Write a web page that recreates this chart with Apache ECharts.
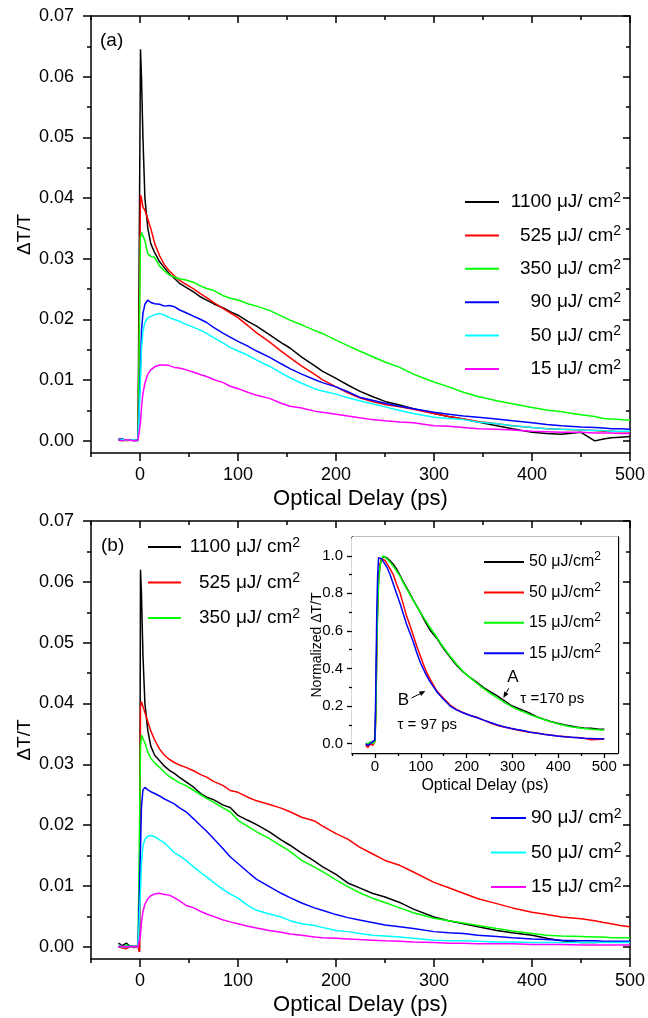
<!DOCTYPE html>
<html><head><meta charset="utf-8">
<script src="https://cdn.jsdelivr.net/npm/echarts@6/dist/echarts.min.js"></script>
<style>html,body{margin:0;padding:0;background:#fff}#c{width:648px;height:1018px}</style>
</head><body><div id="c"></div>
<script>
// ---------------- DATA ----------------
// Optical delay (ps), shared by panels (a) and (b)
const xDelay = [-22,-18,-14,-10,-6,-2,
  -0.5,0.5,1.5,3,5, 8,11,15,20,25, 30,35,40,47,55, 62,68,75,85,92,
  100,110,119,132,144, 153,165,178,186,200, 212,224,237,250,265, 279,300,315,330,345,
  364,380,400,415,430, 450,464,473,481,490, 500];

// Panel (a)
const a1100 = [0.0003,0.0002,0.0001,0.0002,0.0001,0.0002,
  0.0000,0.0645,0.0600,0.0500,0.0400, 0.0350,0.0325,0.0310,0.0295,0.0285,
  0.0275,0.0268,0.0260,0.0253,0.0245, 0.0237,0.0232,0.0226,0.0219,0.0213,
  0.0207,0.0197,0.0189,0.0175,0.0162, 0.0153,0.0138,0.0124,0.0115,0.0103,
  0.0092,0.0082,0.0073,0.0065,0.0059, 0.0053,0.0045,0.0040,0.0036,0.0031,
  0.0025,0.0020,0.0014,0.0012,0.0011, 0.0014,0.0000,0.0003,0.0005,0.0006, 0.0007];
const a525 = [0.0001,0.0002,0.0000,0.0001,0.0002,0.0001,
  0.0000,0.0405,0.0400,0.0385,0.0380, 0.0365,0.0350,0.0325,0.0305,0.0290,
  0.0280,0.0272,0.0265,0.0258,0.0250, 0.0242,0.0236,0.0228,0.0218,0.0211,
  0.0203,0.0190,0.0178,0.0163,0.0148, 0.0137,0.0123,0.0110,0.0101,0.0089,
  0.0079,0.0071,0.0065,0.0060,0.0056, 0.0052,0.0045,0.0040,0.0036,0.0032,
  0.0028,0.0025,0.0022,0.0020,0.0019, 0.0018,0.0017,0.0016,0.0016,0.0015, 0.0015];
const a350 = [0.0001,0.0000,0.0001,0.0002,0.0001,0.0000,
  -0.0003,0.0335,0.0343,0.0338,0.0330, 0.0308,0.0304,0.0302,0.0288,0.0280,
  0.0273,0.0270,0.0267,0.0265,0.0261, 0.0255,0.0251,0.0248,0.0239,0.0235,
  0.0232,0.0226,0.0222,0.0215,0.0206, 0.0199,0.0191,0.0182,0.0177,0.0166,
  0.0157,0.0148,0.0139,0.0130,0.0121, 0.0110,0.0097,0.0089,0.0080,0.0073,
  0.0066,0.0061,0.0055,0.0051,0.0048, 0.0043,0.0040,0.0037,0.0036,0.0035, 0.0034];
const a90 = [0.0002,0.0003,0.0001,0.0002,0.0000,0.0001,
  0.0000,0.0120,0.0180,0.0210,0.0225, 0.0232,0.0228,0.0226,0.0225,0.0222,
  0.0223,0.0221,0.0216,0.0211,0.0205, 0.0200,0.0195,0.0187,0.0177,0.0171,
  0.0164,0.0156,0.0148,0.0138,0.0127, 0.0119,0.0110,0.0101,0.0096,0.0089,
  0.0081,0.0072,0.0067,0.0062,0.0057, 0.0053,0.0047,0.0044,0.0041,0.0039,
  0.0036,0.0033,0.0030,0.0027,0.0025, 0.0023,0.0022,0.0021,0.0020,0.0020, 0.0019];
const a50 = [0.0001,0.0002,0.0001,0.0001,0.0002,0.0000,
  0.0000,0.0100,0.0150,0.0180,0.0195, 0.0203,0.0205,0.0208,0.0210,0.0207,
  0.0203,0.0200,0.0197,0.0192,0.0187, 0.0182,0.0177,0.0170,0.0161,0.0154,
  0.0148,0.0141,0.0133,0.0123,0.0112, 0.0104,0.0095,0.0086,0.0082,0.0077,
  0.0071,0.0066,0.0061,0.0056,0.0050, 0.0045,0.0039,0.0037,0.0035,0.0031,
  0.0028,0.0025,0.0022,0.0020,0.0019, 0.0018,0.0017,0.0017,0.0016,0.0016, 0.0016];
const a15 = [0.0001,0.0000,0.0002,0.0001,0.0000,0.0001,
  0.0000,0.0030,0.0055,0.0078,0.0095, 0.0110,0.0117,0.0122,0.0125,0.0125,
  0.0124,0.0121,0.0120,0.0117,0.0113, 0.0109,0.0106,0.0101,0.0096,0.0090,
  0.0086,0.0080,0.0075,0.0070,0.0062, 0.0057,0.0054,0.0049,0.0047,0.0044,
  0.0041,0.0038,0.0035,0.0033,0.0031, 0.0030,0.0025,0.0024,0.0022,0.0020,
  0.0019,0.0018,0.0016,0.0015,0.0014, 0.0014,0.0013,0.0013,0.0013,0.0012, 0.0012];

// Panel (b)
const b1100 = [0.0006,0.0002,0.0006,0.0001,0.0002,0.0000,
  -0.0008,0.0620,0.0580,0.0480,0.0400, 0.0355,0.0330,0.0315,0.0306,0.0297,
  0.0290,0.0285,0.0279,0.0271,0.0262, 0.0252,0.0246,0.0242,0.0233,0.0229,
  0.0216,0.0208,0.0201,0.0189,0.0176, 0.0167,0.0154,0.0141,0.0132,0.0119,
  0.0105,0.0097,0.0088,0.0082,0.0073, 0.0062,0.0049,0.0043,0.0038,0.0033,
  0.0027,0.0023,0.0019,0.0014,0.0010, 0.0007,0.0007,0.0008,0.0008,0.0008, 0.0008];
const b525 = [0.0000,-0.0002,-0.0003,0.0000,-0.0001,0.0000,
  -0.0008,0.0395,0.0403,0.0400,0.0385, 0.0370,0.0355,0.0340,0.0325,0.0315,
  0.0308,0.0303,0.0299,0.0295,0.0289, 0.0283,0.0279,0.0272,0.0265,0.0257,
  0.0254,0.0246,0.0240,0.0234,0.0228, 0.0222,0.0213,0.0207,0.0199,0.0186,
  0.0177,0.0164,0.0153,0.0142,0.0134, 0.0123,0.0106,0.0097,0.0088,0.0079,
  0.0071,0.0064,0.0057,0.0053,0.0049, 0.0046,0.0043,0.0040,0.0038,0.0035, 0.0033];
const b350 = [0.0002,0.0000,0.0003,0.0001,0.0002,0.0000,
  0.0000,0.0330,0.0348,0.0345,0.0335, 0.0320,0.0310,0.0302,0.0295,0.0287,
  0.0280,0.0275,0.0270,0.0265,0.0257, 0.0250,0.0244,0.0238,0.0228,0.0222,
  0.0208,0.0198,0.0189,0.0178,0.0166, 0.0157,0.0142,0.0131,0.0124,0.0110,
  0.0099,0.0089,0.0080,0.0073,0.0064, 0.0056,0.0047,0.0043,0.0039,0.0035,
  0.0030,0.0026,0.0022,0.0019,0.0018, 0.0017,0.0016,0.0016,0.0015,0.0015, 0.0015];
const b90 = [0.0000,0.0001,0.0000,0.0001,0.0000,0.0001,
  0.0000,0.0160,0.0230,0.0258,0.0262, 0.0258,0.0255,0.0252,0.0248,0.0243,
  0.0239,0.0235,0.0229,0.0222,0.0210, 0.0199,0.0190,0.0178,0.0161,0.0148,
  0.0137,0.0123,0.0111,0.0099,0.0088, 0.0081,0.0072,0.0064,0.0060,0.0053,
  0.0048,0.0044,0.0040,0.0036,0.0033, 0.0030,0.0025,0.0023,0.0022,0.0019,
  0.0017,0.0015,0.0013,0.0012,0.0011, 0.0010,0.0010,0.0009,0.0009,0.0009, 0.0009];
const b50 = [0.0001,0.0000,0.0001,0.0000,0.0001,0.0000,
  0.0000,0.0090,0.0140,0.0165,0.0177, 0.0182,0.0183,0.0181,0.0176,0.0171,
  0.0163,0.0155,0.0150,0.0142,0.0131, 0.0122,0.0115,0.0106,0.0094,0.0087,
  0.0080,0.0068,0.0060,0.0054,0.0049, 0.0043,0.0038,0.0035,0.0032,0.0027,
  0.0025,0.0022,0.0019,0.0018,0.0016, 0.0014,0.0011,0.0010,0.0010,0.0009,
  0.0008,0.0008,0.0007,0.0007,0.0007, 0.0007,0.0007,0.0007,0.0007,0.0007, 0.0007];
const b15 = [0.0000,0.0001,0.0000,0.0000,0.0001,0.0000,
  0.0000,0.0020,0.0040,0.0058,0.0070, 0.0079,0.0084,0.0087,0.0088,0.0086,
  0.0085,0.0081,0.0076,0.0068,0.0064, 0.0058,0.0054,0.0050,0.0044,0.0041,
  0.0038,0.0034,0.0031,0.0027,0.0024, 0.0021,0.0019,0.0016,0.0015,0.0014,
  0.0013,0.0012,0.0011,0.0010,0.0009, 0.0008,0.0007,0.0006,0.0006,0.0005,
  0.0005,0.0005,0.0004,0.0004,0.0004, 0.0003,0.0003,0.0003,0.0003,0.0003, 0.0003];

// Inset (normalized)
const xInset = [-20,-15,-10,-5,-2, 0,2,4,6,8, 11,14,18,22,26, 33,40,47,55,62,
  69,77,84,91,99, 106,113,120,135,150, 164,179,193,208,223, 237,252,266,281,296,
  310,325,339,354,368, 383,398,412,427,442, 456,471,485,500];
const iA50 = [-0.01,0.00,0.00,0.01,0.01, 0.02,0.20,0.55,0.75,0.88, 0.95,0.98,0.995,1.00,0.99,
  0.973,0.955,0.93,0.895,0.86, 0.83,0.795,0.762,0.733,0.70, 0.665,0.635,0.605,0.56,0.505,
  0.46,0.415,0.38,0.352,0.325, 0.298,0.275,0.255,0.23,0.205, 0.19,0.175,0.16,0.142,0.13,
  0.118,0.108,0.10,0.094,0.087, 0.083,0.082,0.078,0.076];
const iB50 = [-0.01,-0.02,0.00,-0.01,0.00, 0.01,0.15,0.50,0.75,0.88, 0.95,0.985,0.99,0.975,0.96,
  0.93,0.90,0.85,0.80,0.74, 0.68,0.625,0.573,0.52,0.467, 0.42,0.378,0.345,0.28,0.24,
  0.205,0.18,0.165,0.15,0.14, 0.125,0.11,0.098,0.088,0.08, 0.072,0.066,0.06,0.056,0.05,
  0.046,0.04,0.038,0.034,0.032, 0.028,0.02,0.022,0.024];
const iA15 = [0.00,0.00,0.01,0.00,0.00, 0.01,0.15,0.50,0.72,0.86, 0.94,0.98,1.00,0.995,0.985,
  0.965,0.945,0.92,0.89,0.855, 0.825,0.79,0.76,0.732,0.70, 0.672,0.645,0.618,0.565,0.51,
  0.465,0.42,0.383,0.35,0.32, 0.293,0.268,0.245,0.222,0.20, 0.182,0.168,0.153,0.14,0.128,
  0.117,0.106,0.098,0.09,0.085, 0.08,0.077,0.074,0.072];
const iB15 = [0.00,-0.01,0.00,0.01,0.01, 0.02,0.30,0.70,0.90,0.99, 1.00,0.985,0.97,0.955,0.94,
  0.90,0.85,0.80,0.745,0.69, 0.635,0.585,0.538,0.485,0.432, 0.395,0.36,0.33,0.275,0.235,
  0.20,0.178,0.163,0.15,0.138, 0.125,0.112,0.10,0.09,0.082, 0.075,0.068,0.061,0.055,0.05,
  0.045,0.04,0.037,0.034,0.031, 0.028,0.027,0.026,0.026];

// Tick values
const mainXMajor = [0,100,200,300,400,500];
const mainXMinor = [-50,50,150,250,350,450];
const mainYMajor = [0,0.01,0.02,0.03,0.04,0.05,0.06,0.07];
const mainYMinor = [0.005,0.015,0.025,0.035,0.045,0.055,0.065];
const insetXMajor = [0,100,200,300,400,500];
const insetXMinor = [-50,50,150,250,350,450];
const insetYMajor = [0,0.2,0.4,0.6,0.8,1.0];
const insetYMinor = [0.1,0.3,0.5,0.7,0.9];

// Legend labels
const fluenceMain = ['1100','525','350','90','50','15'];
const fluenceInset = ['50','50','15','15'];

// ---------------- CHART ----------------
const FONT = '"Liberation Sans", Arial, Helvetica, sans-serif';
const COLORS = ['#000000','#ff0000','#00ff00','#0000ff','#00ffff','#ff00ff'];
const INSET_COLORS = ['#000000','#ff0000','#00ff00','#0000ff'];

function pairs(xs, ys){ return xs.map((x,i)=>[x, ys[i]]); }

function mkAxes(g, o){
  const axLine = {show:true, onZero:false, lineStyle:{color:'#000', width:o.lw}};
  const noLine = {show:false, onZero:false};
  const tk = (vals, len, inside) => ({show:true, customValues:vals, length:len, inside:inside, lineStyle:{color:'#000', width:o.lw}});
  const noLab = {show:false};
  const base = {type:'value', gridIndex:g, splitLine:{show:false}, silent:true};
  const xc = Object.assign({}, base, {min:o.xmin, max:o.xmax});
  const yc = Object.assign({}, base, {min:o.ymin, max:o.ymax});
  const x = [
    Object.assign({}, xc, {position:'bottom', axisLine:axLine, axisTick:tk(o.xMaj,o.tMajOut,false),
      axisLabel:{show:true, customValues:o.xMaj, fontSize:o.fs, fontFamily:FONT, color:'#000', margin:o.xMargin, formatter:v=>String(Math.round(v))},
      name:o.xName, nameLocation:'middle', nameGap:o.xNameGap, nameMoveOverlap:false,
      nameTextStyle:{fontSize:o.xNameFs, fontFamily:FONT, color:'#000'}}),
    Object.assign({}, xc, {position:'bottom', axisLine:noLine, axisTick:tk(o.xMin,o.tMinOut,false), axisLabel:noLab}),
    Object.assign({}, xc, {position:'top', axisLine:axLine, axisTick:tk(o.xMaj,o.tMajIn,true), axisLabel:noLab}),
    Object.assign({}, xc, {position:'top', axisLine:noLine, axisTick:tk(o.xMin,o.tMinIn,true), axisLabel:noLab})
  ];
  const y = [
    Object.assign({}, yc, {position:'left', axisLine:axLine, axisTick:tk(o.yMaj,o.tMajOut,false),
      axisLabel:{show:true, customValues:o.yMaj, fontSize:o.fs, fontFamily:FONT, color:'#000', margin:o.yMargin, formatter:v=>v.toFixed(o.yDec)},
      name:o.yName, nameLocation:'middle', nameGap:o.yNameGap, nameMoveOverlap:false,
      nameTextStyle:{fontSize:o.yNameFs, fontFamily:FONT, color:'#000'}}),
    Object.assign({}, yc, {position:'left', axisLine:noLine, axisTick:tk(o.yMin,o.tMinOut,false), axisLabel:noLab}),
    Object.assign({}, yc, {position:'right', axisLine:axLine, axisTick:tk(o.yMaj,o.tMajIn,true), axisLabel:noLab}),
    Object.assign({}, yc, {position:'right', axisLine:noLine, axisTick:tk(o.yMin,o.tMinIn,true), axisLabel:noLab})
  ];
  return {x, y};
}

const mainOpts = {lw:1.5, xmin:-50, xmax:500, ymin:-0.002, ymax:0.07,
  xMaj:mainXMajor, xMin:mainXMinor, yMaj:mainYMajor, yMin:mainYMinor,
  tMajOut:8, tMinOut:4, tMajIn:7, tMinIn:4, fs:18, xMargin:13, yMargin:17, yDec:2,
  xName:'Optical Delay (ps)', xNameGap:35, xNameFs:22, yName:'ΔT/T', yNameGap:57, yNameFs:19};
const axA = mkAxes(0, mainOpts);
const axB = mkAxes(1, mainOpts);
const axI = mkAxes(2, {lw:1.3, xmin:-50, xmax:530, ymin:-0.05, ymax:1.1,
  xMaj:insetXMajor, xMin:insetXMinor, yMaj:insetYMajor, yMin:insetYMinor,
  tMajOut:5, tMinOut:3, tMajIn:4, tMinIn:2, fs:15, xMargin:6, yMargin:9, yDec:1,
  xName:'Optical Delay (ps)', xNameGap:25, xNameFs:16, yName:'Normalized ΔT/T', yNameGap:28, yNameFs:14});

const seriesA = [a1100,a525,a350,a90,a50,a15];
const seriesB = [b1100,b525,b350,b90,b50,b15];
const seriesI = [iA50,iB50,iA15,iB15];
const series = [];
const LABEL = {};
seriesA.forEach((d,i)=>{ const n='a'+i; LABEL[n]=fluenceMain[i];
  series.push({name:n, type:'line', xAxisIndex:0, yAxisIndex:0, data:pairs(xDelay,d), symbol:'none', showSymbol:false,
    lineStyle:{color:COLORS[i], width:1.5}, itemStyle:{color:COLORS[i]}, silent:true}); });
seriesB.forEach((d,i)=>{ const n='b'+i; LABEL[n]=fluenceMain[i];
  series.push({name:n, type:'line', xAxisIndex:4, yAxisIndex:4, data:pairs(xDelay,d), symbol:'none', showSymbol:false,
    lineStyle:{color:COLORS[i], width:1.5}, itemStyle:{color:COLORS[i]}, silent:true}); });
seriesI.forEach((d,i)=>{ const n='i'+i; LABEL[n]=fluenceInset[i];
  series.push({name:n, type:'line', xAxisIndex:8, yAxisIndex:8, data:pairs(xInset,d), symbol:'none', showSymbol:false,
    lineStyle:{color:INSET_COLORS[i], width:1.5}, itemStyle:{color:INSET_COLORS[i]}, silent:true}); });

function legendCfg(names, left, top, iw, gap, textW, fs, sep, align){
  return {data:names, orient:'vertical', left:left, top:top, itemWidth:iw, itemHeight:22, itemGap:gap,
    selectedMode:false, padding:0,
    itemStyle:{opacity:0, borderWidth:0},
    lineStyle:{width:2, opacity:1},
    formatter:n=>'{n|'+LABEL[n]+' μJ/'+sep+'cm}{s|2}',
    textStyle:{width:textW, fontFamily:FONT, color:'#000',
      rich:{n:{fontSize:fs, lineHeight:22, align:align, fontFamily:FONT, color:'#000'},
            s:{fontSize:Math.round(fs*0.75), lineHeight:15, verticalAlign:'top', align:align, fontFamily:FONT, color:'#000'}}}};
}

const option = {
  animation:false,
  backgroundColor:'#fff',
  textStyle:{fontFamily:FONT},
  grid:[
    {left:91, top:16, width:539, height:437, outerBoundsMode:'none'},
    {left:91, top:521, width:539, height:438, outerBoundsMode:'none'},
    {left:352, top:537, width:266, height:216, show:true, backgroundColor:'#fff', borderWidth:0, outerBoundsMode:'none', z:3}
  ],
  xAxis:[].concat(axA.x, axB.x, axI.x),
  yAxis:[].concat(axA.y, axB.y, axI.y),
  legend:[
    legendCfg(['a0','a1','a2','a3','a4','a5'], 464, 191, 34, 12.9, 117, 19, ' ', 'right'),
    legendCfg(['b0','b1','b2'], 147, 536, 33, 15, 114, 19, ' ', 'right'),
    legendCfg(['b3','b4','b5'], 490, 807, 35, 14, 95, 19, ' ', 'left'),
    legendCfg(['i0','i1','i2','i3'], 483, 551, 40, 10.6, 82, 16, '', 'left')
  ],
  series:series
};

const chart = echarts.init(document.getElementById('c'), null, {renderer:'canvas'});
chart.setOption(option);

// Annotations placed through the inset's own scales
const P = (x,y)=>chart.convertToPixel({seriesIndex:12}, [x,y]);
function txt(p, s, fs, align){ return {type:'text', x:p[0], y:p[1], z:100,
  style:{text:s, fontSize:fs, fontFamily:FONT, fill:'#000', align:align||'center', verticalAlign:'middle'}}; }
function arrowEls(p0, p1){
  const dx=p1[0]-p0[0], dy=p1[1]-p0[1], L=Math.hypot(dx,dy), ux=dx/L, uy=dy/L, hl=6, hw=2.5;
  const bx=p1[0]-ux*hl, by=p1[1]-uy*hl;
  return [
    {type:'line', z:100, shape:{x1:p0[0],y1:p0[1],x2:bx,y2:by}, style:{stroke:'#000', lineWidth:1}},
    {type:'polygon', z:100, shape:{points:[[p1[0],p1[1]],[bx-uy*hw,by+ux*hw],[bx+uy*hw,by-ux*hw]]}, style:{fill:'#000'}}
  ];
}
const g = [
  {type:'text', x:100, y:41, z:100, style:{text:'(a)', fontSize:19, fontFamily:FONT, fill:'#000', align:'left', verticalAlign:'middle'}},
  {type:'text', x:101, y:546, z:100, style:{text:'(b)', fontSize:19, fontFamily:FONT, fill:'#000', align:'left', verticalAlign:'middle'}},
  txt(P(301,0.351),'A',17),
  txt(P(62,0.232),'B',17),
  txt(P(317,0.236),'τ =170 ps',15,'left'),
  txt(P(49,0.102),'τ = 97 ps',15,'left')
].concat(arrowEls(P(292,0.295),P(280,0.243)), arrowEls(P(80,0.243),P(110,0.28)));
chart.setOption({graphic:g});
</script>
</body></html>
